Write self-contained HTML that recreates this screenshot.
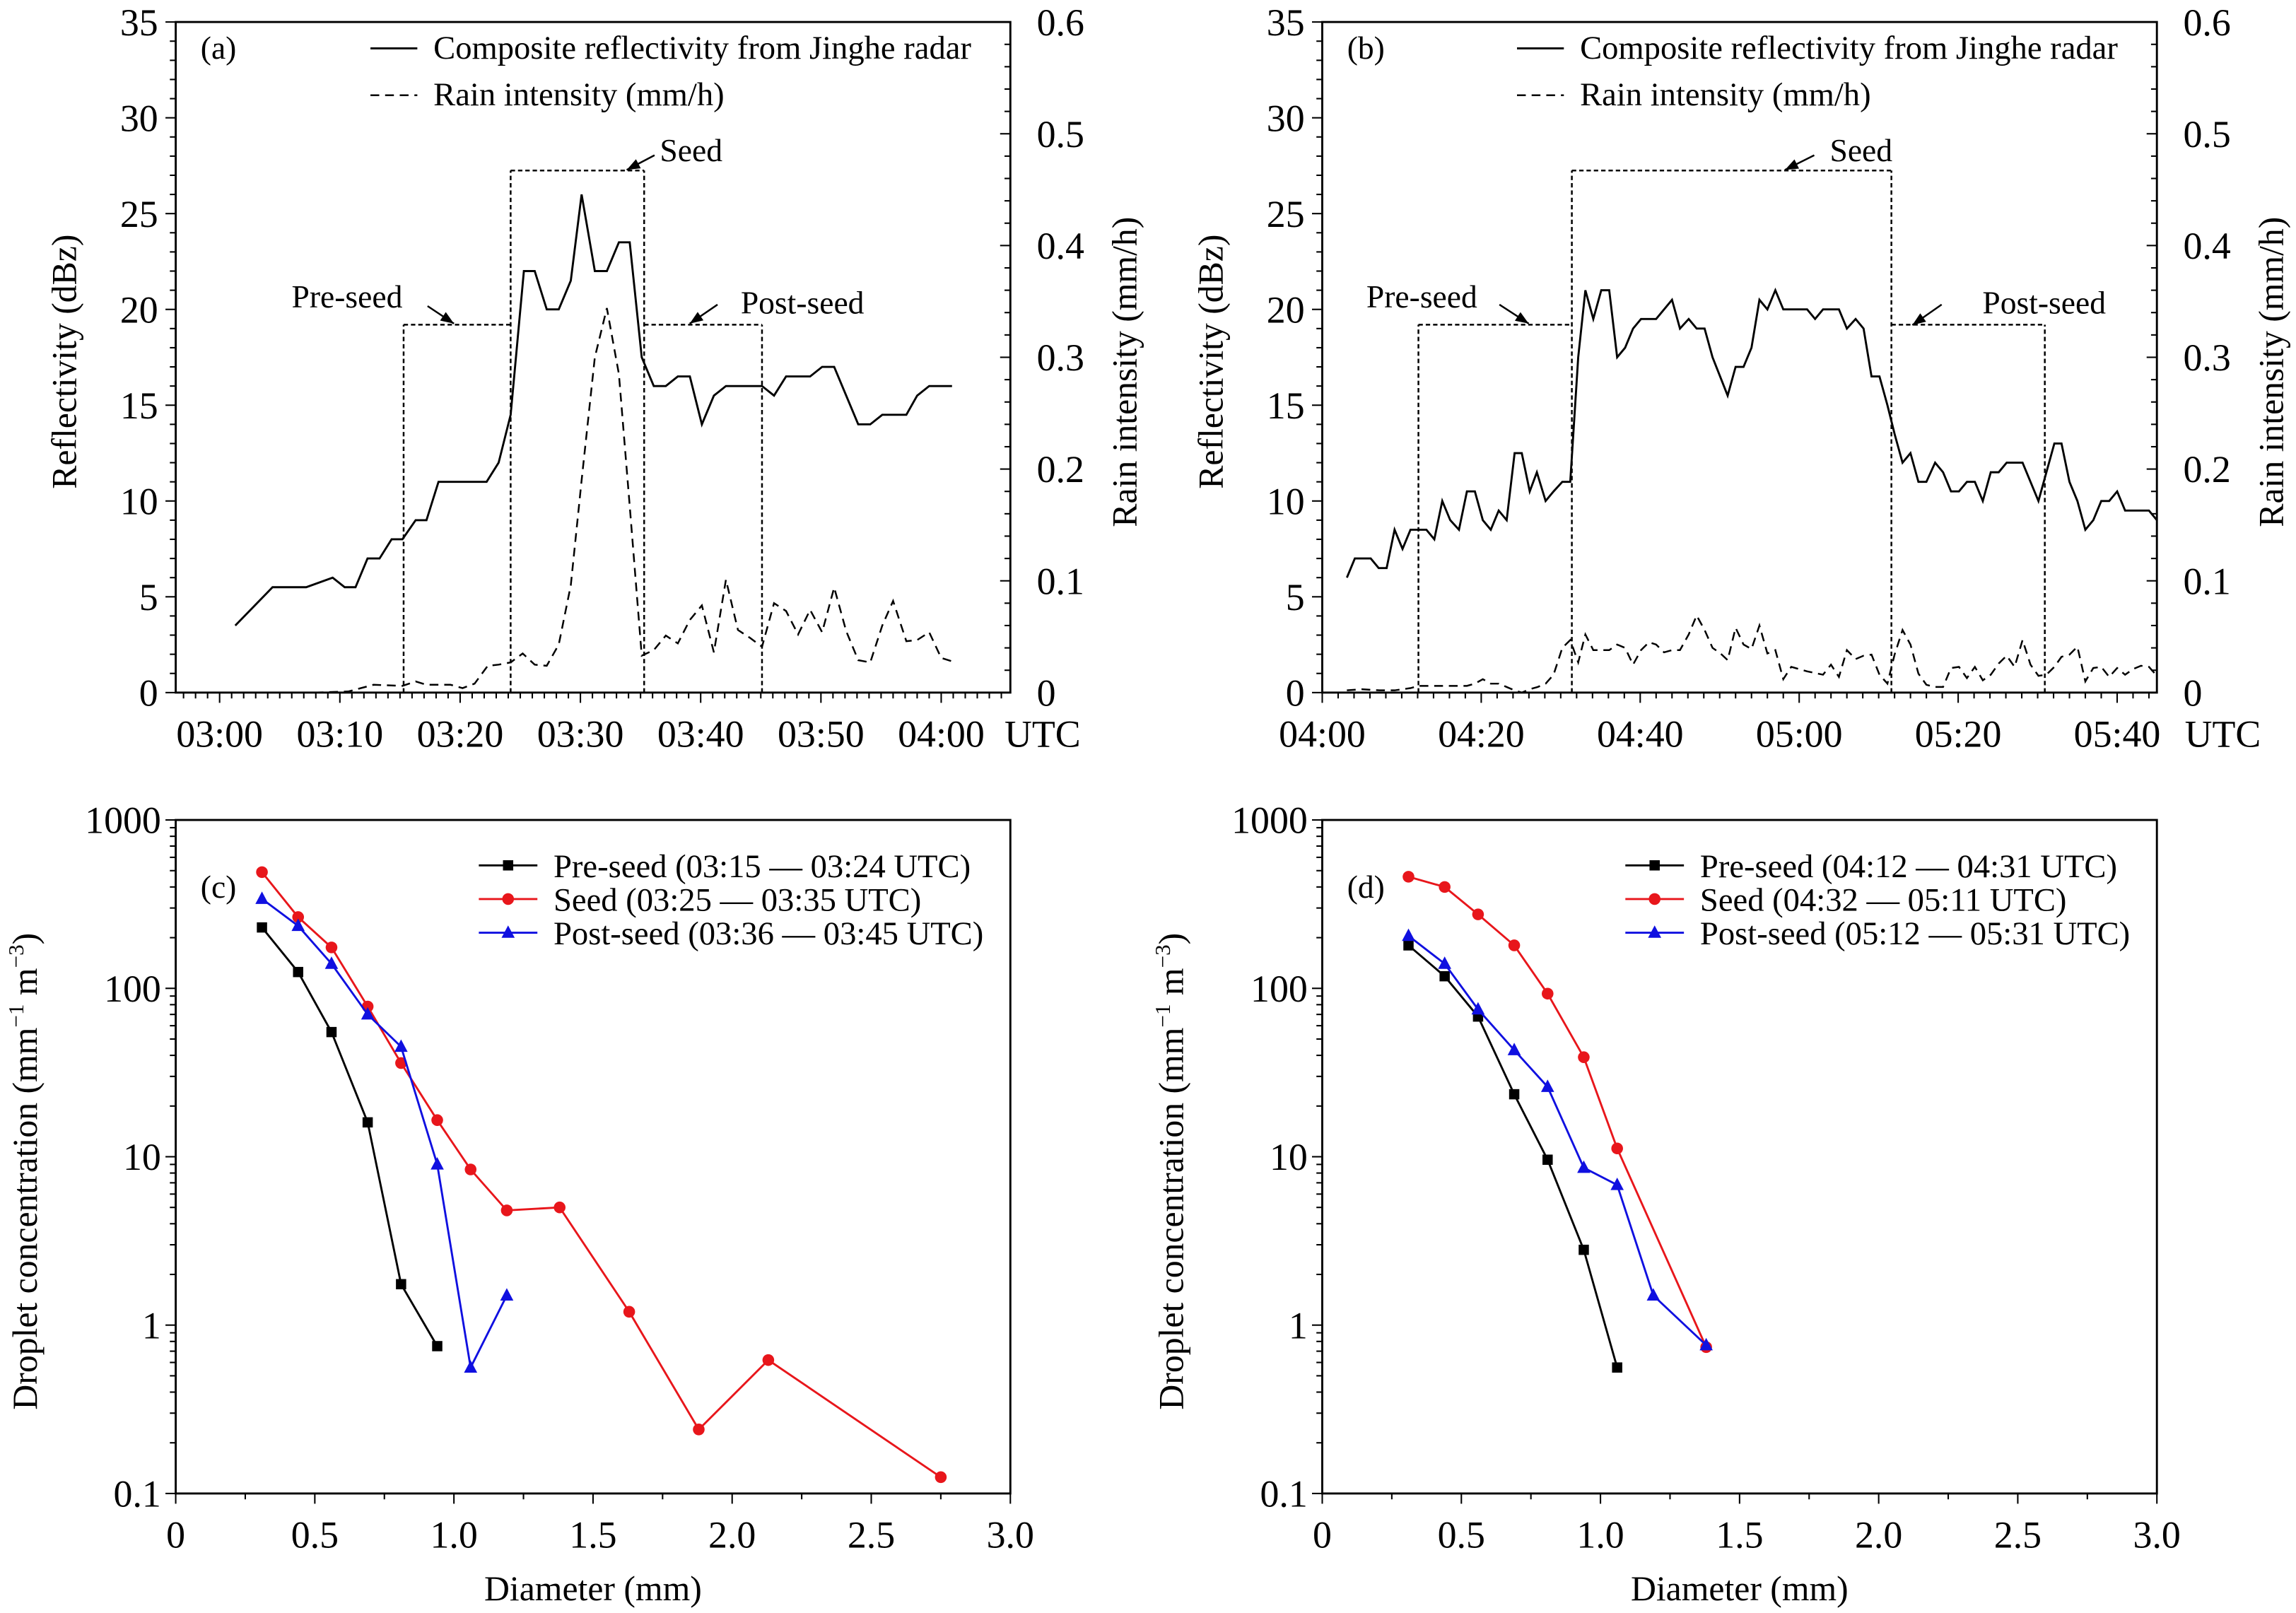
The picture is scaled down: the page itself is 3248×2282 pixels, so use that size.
<!DOCTYPE html>
<html><head><meta charset="utf-8"><style>
html,body{margin:0;padding:0;background:#fff;}
svg{display:block;}
text{font-family:"Liberation Serif","Times New Roman","DejaVu Serif",serif;}
</style></head><body>
<svg id="fig" xmlns="http://www.w3.org/2000/svg" width="3248" height="2282" viewBox="0 0 1568 1101.6"></svg>
<script>
// ---- Panel (a) data ----
const aTimeRef = [1.3,4.4,7.2,9.4,10.4,11.3,12.3,13.3,14.3,15.2,16.3,17.2,18.2,22.2,23.2,24.2,25.3,26.2,27.2,28.2,29.2,30.1,31.2,32.2,33.2,34.1,35.1,36.1,37.1,38.1,39.1,40.1,41.1,42.1,45.1,46.1,47.1,49.1,50.1,51.1,53.1,54.1,55.1,57.1,58,59,60.9];
const aRefl = [3.5,5.5,5.5,6,5.5,5.5,7,7,8,8,9,9,11,11,12,14.5,22,22,20,20,21.5,26,22,22,23.5,23.5,17.5,16,16,16.5,16.5,14,15.5,16,16,15.5,16.5,16.5,17,17,14,14,14.5,14.5,15.5,16,16];
const aTimeRain = [7.9,10.7,12.8,15.2,16.3,17.2,19.2,20.2,21.2,22.3,23.2,24.2,25.2,26.2,27.2,28.2,29.2,30.1,31.2,32.2,33.2,34.1,35.1,36.1,37.1,38.1,39.1,40.1,41.1,42.1,43.1,44.1,45.1,46.1,47.1,48.1,49.1,50.1,51.1,52.1,53.1,54.1,55.1,56,57.1,58,59,60,60.9];
const aRain = [0,0.001,0.007,0.006,0.01,0.007,0.007,0.004,0.008,0.024,0.025,0.027,0.035,0.025,0.024,0.043,0.096,0.19,0.30,0.344,0.285,0.167,0.033,0.038,0.051,0.044,0.065,0.078,0.036,0.101,0.056,0.049,0.041,0.08,0.073,0.052,0.074,0.054,0.094,0.055,0.029,0.027,0.06,0.082,0.046,0.047,0.054,0.031,0.028];
const aBoxes = [[15.3,24.2,19.2],[24.2,35.3,27.25],[35.3,45.1,19.2]];
const aTickLabels = ["03:00","03:10","03:20","03:30","03:40","03:50","04:00"];
// ---- Panel (b) data ----
const bTimeRef = [3.1,4.1,6.1,7.1,8.1,9.1,10.1,11.1,13.1,14.1,15.1,16.1,17.2,18.2,19.2,20.2,21.2,22.2,23.2,24.2,25.1,26.1,27,28.1,29.1,30.2,31.2,32.2,33.1,34.1,35.1,36.1,37.1,38.1,39.1,40.1,42,44,45,46.1,47.1,48.1,49.1,51,52,53,54,55,56,57,58,61,62,63,65,66,67.1,68.1,69.1,70.1,71.1,72,73,74,75,76,77.1,78.1,79.1,80.1,81.1,82.1,83.1,84.1,85.1,86.1,88.1,90.1,92.1,93,94,95,96,97,98,99,100,101,104,105];
const bRefl = [6,7,7,6.5,6.5,8.5,7.5,8.5,8.5,8,10,9,8.5,10.5,10.5,9,8.5,9.5,9,12.5,12.5,10.5,11.5,10,10.5,11,11,17.5,21,19.5,21,21,17.5,18,19,19.5,19.5,20.5,19,19.5,19,19,17.5,15.5,17,17,18,20.5,20,21,20,20,19.5,20,20,19,19.5,19,16.5,16.5,15,13.5,12,12.5,11,11,12,11.5,10.5,10.5,11,11,10,11.5,11.5,12,12,10,13,13,11,10,8.5,9,10,10,10.5,9.5,9.5,9];
const bTimeRain = [3.1,5,7.2,9.1,11.1,12.1,14.1,16.1,18.2,19.2,20.2,21.2,22.2,23.2,24.2,25.1,26.1,27.1,28.1,29.1,30.2,31.2,32.2,33.1,34.1,35.1,36.1,37.1,38.1,39.1,40.1,41.1,42,43,44,45,46.1,47.1,48.1,49.1,50.1,51,52,53,54,55,56,57,58,59,60,61,63,64,65,66,67.1,68.1,69.1,70.1,71.1,72,73,74,75,76,77.1,78.1,79.1,80.1,81.1,82.1,83.1,84.1,85.1,86.1,87.1,88.1,89.1,90.1,91.1,92.1,93,94,95,96,97,98,99,100,101,102,103,104,105];
const bRain = [0.002,0.003,0.002,0.002,0.004,0.006,0.006,0.006,0.006,0.008,0.012,0.008,0.008,0.005,0.002,0,0.003,0.005,0.008,0.016,0.04,0.047,0.027,0.052,0.038,0.038,0.038,0.043,0.04,0.025,0.038,0.045,0.043,0.036,0.038,0.038,0.052,0.069,0.056,0.04,0.035,0.029,0.058,0.043,0.039,0.06,0.035,0.038,0.012,0.023,0.021,0.019,0.016,0.025,0.014,0.038,0.03,0.033,0.034,0.016,0.008,0.034,0.056,0.043,0.017,0.007,0.005,0.005,0.022,0.023,0.013,0.023,0.011,0.016,0.026,0.033,0.023,0.047,0.025,0.015,0.016,0.023,0.032,0.034,0.041,0.01,0.022,0.023,0.014,0.022,0.016,0.021,0.024,0.023,0.015];
const bBoxes = [[12.1,31.4,19.2],[31.4,71.6,27.25],[71.6,90.9,19.2]];
const bTickLabels = ["04:00","04:20","04:40","05:00","05:20","05:40"];
// ---- Panel (c) data ----
const cPreD = [0.31,0.44,0.56,0.69,0.81,0.94];
const cPreN = [230,125,55,16,1.75,0.75];
const cSeedD = [0.31,0.44,0.56,0.69,0.81,0.94,1.06,1.19,1.38,1.63,1.88,2.13,2.75];
const cSeedN = [490,265,175,78,36,16.5,8.4,4.8,5.0,1.2,0.24,0.62,0.125];
const cPostD = [0.31,0.44,0.56,0.69,0.81,0.94,1.06,1.19];
const cPostN = [340,235,140,70,45,9,0.56,1.5];
// ---- Panel (d) data ----
const dPreD = [0.31,0.44,0.56,0.69,0.81,0.94,1.06];
const dPreN = [180,118,68,23.5,9.6,2.8,0.56];
const dSeedD = [0.31,0.44,0.56,0.69,0.81,0.94,1.06,1.38];
const dSeedN = [460,400,275,180,93,39,11.2,0.74];
const dPostD = [0.31,0.44,0.56,0.69,0.81,0.94,1.06,1.19,1.38];
const dPostN = [205,140,75,43,26,8.6,6.8,1.5,0.76];
const xTickLabelsD = ["0","0.5","1.0","1.5","2.0","2.5","3.0"];
const yTickLabelsLog = ["0.1","1","10","100","1000"];

const NS="http://www.w3.org/2000/svg";
const svg=document.getElementById('fig');
const FF='"Liberation Serif", "Times New Roman", "DejaVu Serif", serif';
function mk(tag,attrs,parent){const e=document.createElementNS(NS,tag);for(const k in attrs)e.setAttribute(k,attrs[k]);(parent||svg).appendChild(e);return e;}
function txt(s,x,y,size,anchor,parent,extra){const e=mk('text',Object.assign({x:x,y:y,'font-size':size,'text-anchor':anchor||'start',fill:'#000','font-family':FF},extra||{}),parent);e.textContent=s;return e;}
function poly(pts){return pts.map(p=>p[0].toFixed(2)+','+p[1].toFixed(2)).join(' ');}

function timePanel(o){
  const g=mk('g',{});
  
  
  const X=t=>o.x0+(t-o.tmin)/(o.tmax-o.tmin)*(o.x1-o.x0);
  const Y=v=>o.y1-v/35*(o.y1-o.y0);
  const Y2=v=>o.y1-v/0.6*(o.y1-o.y0);
  mk('rect',{x:o.x0,y:o.y0,width:o.x1-o.x0,height:o.y1-o.y0,fill:'none',stroke:'#000','stroke-width':1.4},g);
  for(let v=0;v<=35;v++){const maj=v%5===0;mk('line',{x1:o.x0,x2:o.x0-(maj?7:4),y1:Y(v),y2:Y(v),stroke:'#000','stroke-width':1},g);
    if(maj){const t=txt(String(v),o.x0-12,Y(v)+9,26,'end',g);}}
  for(let i=0;i<=30;i++){const v=i*0.02;const maj=i%5===0;mk('line',{x1:o.x1,x2:o.x1-(maj?7:4),y1:Y2(v),y2:Y2(v),stroke:'#000','stroke-width':1},g);
    if(maj){const t=txt(i===0?'0':v.toFixed(1),o.x1+18,Y2(v)+9,26,'start',g);}}
  for(let t=Math.ceil(o.tmin);t<=o.tmax;t+=o.minor){const maj=(t%o.major)===0;mk('line',{x1:X(t),x2:X(t),y1:o.y1,y2:o.y1+(maj?7:4),stroke:'#000','stroke-width':1},g);}
  o.labels.forEach((s,i)=>{const t=txt(s,X(i*o.major),o.y1+37,26,'middle',g);});
  const u=txt('UTC',o.x1+o.utc,o.y1+37,26,'middle',g);
  // boxes: tops per box, vertical edges deduplicated
  const vert={};
  o.boxes.forEach(b=>{
    const r=mk('line',{x1:X(b[0]),x2:X(b[1]),y1:Y(b[2]),y2:Y(b[2]),stroke:'#000','stroke-width':1.2,'stroke-dasharray':'3,2'},g);
    
    [b[0],b[1]].forEach(x=>{vert[x]=Math.max(vert[x]||0,b[2]);});
  });
  Object.keys(vert).forEach(k=>{const r=mk('line',{x1:X(+k),x2:X(+k),y1:Y(0),y2:Y(vert[k]),stroke:'#000','stroke-width':1.2,'stroke-dasharray':'3,2'},g);
    });
  const l1=mk('polyline',{points:poly(o.tr.map((t,i)=>[X(t),Y(o.r[i])])),fill:'none',stroke:'#000','stroke-width':1.4},g);
  
  const l2=mk('polyline',{points:poly(o.tn.map((t,i)=>[X(t),Y2(o.n[i])])),fill:'none',stroke:'#000','stroke-width':1.2,'stroke-dasharray':'6,4'},g);
  
  o.ann.forEach(a=>{const t=txt(a.s,a.tx,a.ty,22,'middle',g);
    mk('line',{x1:a.a[0],y1:a.a[1],x2:a.a[2],y2:a.a[3],stroke:'#000','stroke-width':1.2},g);
    const dx=a.a[2]-a.a[0],dy=a.a[3]-a.a[1],L=Math.hypot(dx,dy),ux=dx/L,uy=dy/L;
    const bx=a.a[2]-ux*9,by=a.a[3]-uy*9;
    mk('polygon',{points:poly([[a.a[2],a.a[3]],[bx-uy*3.5,by+ux*3.5],[bx+uy*3.5,by-ux*3.5]]),fill:'#000'},g);});
  const lg=mk('g',{},g);
  mk('line',{x1:o.x0+133,x2:o.x0+165,y1:o.y0+18,y2:o.y0+18,stroke:'#000','stroke-width':1.4},lg);
  txt('Composite reflectivity from Jinghe radar',o.x0+176,o.y0+25,22.5,'start',lg);
  mk('line',{x1:o.x0+133,x2:o.x0+165,y1:o.y0+50,y2:o.y0+50,stroke:'#000','stroke-width':1.2,'stroke-dasharray':'6,4'},lg);
  txt('Rain intensity (mm/h)',o.x0+176,o.y0+57,22.5,'start',lg);
  const pl=txt(o.tag,o.x0+17,o.y0+25,22,'start',g);
  const yt=txt('Reflectivity (dBz)',0,0,24,'middle',g,{transform:`translate(${o.x0-68},${(o.y0+o.y1)/2+3}) rotate(-90)`});
  
  const yt2=txt('Rain intensity (mm/h)',0,0,24,'middle',g,{transform:`translate(${o.x1+86},${(o.y0+o.y1)/2+10}) rotate(-90)`});
  
}

timePanel({name:'panel-a',x0:120,x1:690,y0:15,y1:473,tmin:-3.65,tmax:65.75,minor:1,major:10,labels:aTickLabels,utc:22,
  tr:aTimeRef,r:aRefl,tn:aTimeRain,n:aRain,boxes:aBoxes,tag:'(a)',
  ann:[{s:'Pre-seed',tx:237,ty:210,a:[292,209,310,221]},{s:'Seed',tx:472,ty:110,a:[447,106,428,116]},{s:'Post-seed',tx:548,ty:214,a:[490,208,471,221]}]});
timePanel({name:'panel-b',x0:903,x1:1473,y0:15,y1:473,tmin:0,tmax:105,minor:2,major:20,labels:bTickLabels,utc:45,
  tr:bTimeRef,r:bRefl,tn:bTimeRain,n:bRain,boxes:bBoxes,tag:'(b)',
  ann:[{s:'Pre-seed',tx:971,ty:210,a:[1024,208,1044,221]},{s:'Seed',tx:1271,ty:110,a:[1239,106,1219,116]},{s:'Post-seed',tx:1396,ty:214,a:[1326,208,1306,222]}]});

function dsdPanel(o){
  const g=mk('g',{});
  
  
  const X=d=>o.x0+d/3*(o.x1-o.x0);
  const Y=v=>o.y1-(Math.log10(v)+1)/4*(o.y1-o.y0);
  mk('rect',{x:o.x0,y:o.y0,width:o.x1-o.x0,height:o.y1-o.y0,fill:'none',stroke:'#000','stroke-width':1.4},g);
  for(let e=-1;e<3;e++){for(let m=1;m<10;m++){const v=m*Math.pow(10,e);mk('line',{x1:o.x0,x2:o.x0-(m===1?7:4),y1:Y(v),y2:Y(v),stroke:'#000','stroke-width':1},g);}}
  mk('line',{x1:o.x0,x2:o.x0-7,y1:Y(1000),y2:Y(1000),stroke:'#000','stroke-width':1},g);
  yTickLabelsLog.forEach((s,i)=>{const t=txt(s,o.x0-10,Y(Math.pow(10,i-1))+9,26,'end',g);});
  for(let i=0;i<=12;i++){const d=i*0.25;mk('line',{x1:X(d),x2:X(d),y1:o.y1,y2:o.y1+(i%2===0?7:4),stroke:'#000','stroke-width':1},g);}
  xTickLabelsD.forEach((s,i)=>{const t=txt(s,X(i*0.5),o.y1+37,26,'middle',g);});
  const xt=txt('Diameter (mm)',(o.x0+o.x1)/2,o.y1+73,24,'middle',g);
  const yt=txt('',0,0,24,'middle',g,{transform:`translate(${o.x0-95},${(o.y0+o.y1)/2+10}) rotate(-90)`});
  
  yt.innerHTML='Droplet concentration (mm<tspan dy="-9" font-size="15">−1</tspan><tspan dy="9"> m</tspan><tspan dy="-9" font-size="15">−3</tspan><tspan dy="9">)</tspan>';
  const marker=(shape,x,y,col,parent)=>{
    if(shape==='sq')mk('rect',{x:x-3.5,y:y-3.5,width:7,height:7,fill:col},parent);
    else if(shape==='ci')mk('circle',{cx:x,cy:y,r:4,fill:col},parent);
    else mk('polygon',{points:poly([[x,y-5],[x-4.5,y+3.5],[x+4.5,y+3.5]]),fill:col},parent);
  };
  o.series.forEach((s,k)=>{
    const sg=mk('g',{},g);
    mk('polyline',{points:poly(s.d.map((d,i)=>[X(d),Y(s.n[i])])),fill:'none',stroke:s.c,'stroke-width':1.4},sg);
    s.d.forEach((d,i)=>marker(s.m,X(d),Y(s.n[i]),s.c,sg));
    const lg=mk('g',{},g);
    const ly=o.y0+31+k*23;
    mk('line',{x1:o.x0+207,x2:o.x0+247,y1:ly,y2:ly,stroke:s.c,'stroke-width':1.4},lg);
    marker(s.m,o.x0+227,ly,s.c,lg);
    txt(s.label,o.x0+258,ly+8,22.5,'start',lg);
  });
  const pl=txt(o.tag,o.x0+17,o.y0+53,22,'start',g);
}
dsdPanel({name:'panel-c',x0:120,x1:690,y0:560,y1:1020,tag:'(c)',series:[
  {id:'pre-seed',d:cPreD,n:cPreN,c:'#000',m:'sq',label:'Pre-seed (03:15 — 03:24 UTC)'},
  {id:'seed',d:cSeedD,n:cSeedN,c:'#e8161b',m:'ci',label:'Seed (03:25 — 03:35 UTC)'},
  {id:'post-seed',d:cPostD,n:cPostN,c:'#1010e0',m:'tri',label:'Post-seed (03:36 — 03:45 UTC)'}]});
dsdPanel({name:'panel-d',x0:903,x1:1473,y0:560,y1:1020,tag:'(d)',series:[
  {id:'pre-seed',d:dPreD,n:dPreN,c:'#000',m:'sq',label:'Pre-seed (04:12 — 04:31 UTC)'},
  {id:'seed',d:dSeedD,n:dSeedN,c:'#e8161b',m:'ci',label:'Seed (04:32 — 05:11 UTC)'},
  {id:'post-seed',d:dPostD,n:dPostN,c:'#1010e0',m:'tri',label:'Post-seed (05:12 — 05:31 UTC)'}]});
</script>
</body></html>
